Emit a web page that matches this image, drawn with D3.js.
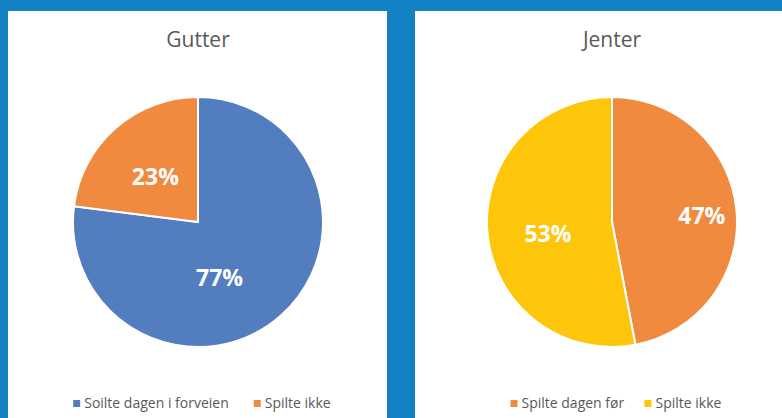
<!DOCTYPE html>
<html>
<head>
<meta charset="utf-8">
<script src="https://cdn.jsdelivr.net/npm/d3@7"></script>
<style>
  html, body { margin: 0; padding: 0; background: #1282c4; }
  svg { display: block; }
</style>
</head>
<body>
<svg id="chart" width="782" height="418"></svg>
<script>
// Data
const titles = ["Gutter", "Jenter"];
const boysLabels = ["Soilte dagen i forveien", "Spilte ikke"];
const boysValues = [77, 23];
const girlsLabels = ["Spilte dagen før", "Spilte ikke"];
const girlsValues = [47, 53];
const boysColors = ["#527dbf", "#ef8a3e"];
const girlsColors = ["#ef8a3e", "#fec60b"];
// label placement (polar, degrees clockwise from top, radius fraction)
const boysLabelAngle = [159, 317];
const boysLabelRadius = [0.48, 0.5];
const girlsLabelAngle = [86, 260];
const girlsLabelRadius = [0.72, 0.52];

const svg = d3.select("#chart");
const W = 782, H = 418;

const panels = [
  { x: 8, w: 379, title: titles[0], labels: boysLabels, values: boysValues, colors: boysColors, la: boysLabelAngle, lr: boysLabelRadius, gap: 25 },
  { x: 415, w: 367, title: titles[1], labels: girlsLabels, values: girlsValues, colors: girlsColors, la: girlsLabelAngle, lr: girlsLabelRadius, gap: 20 }
];
const centers = [198, 612];
const R = 125;
const cy = 222;

panels.forEach((p, i) => {
  const g = svg.append("g");
  g.append("rect").attr("x", p.x).attr("y", 11).attr("width", p.w).attr("height", H - 11).attr("fill", "#ffffff");

  const cx = centers[i];
  g.append("text")
    .attr("x", cx).attr("y", 47)
    .attr("text-anchor", "middle")
    .attr("font-family", "'Open Sans', sans-serif")
    .attr("font-size", 21)
    .attr("fill", "#595959")
    .text(p.title);

  const pie = d3.pie().sort(null).value(d => d)(p.values);
  const arc = d3.arc().innerRadius(0).outerRadius(R);
  const pg = g.append("g").attr("transform", `translate(${cx},${cy})`);
  pg.selectAll("path").data(pie).join("path")
    .attr("d", arc)
    .attr("fill", (d, j) => p.colors[j])
    .attr("stroke", "#ffffff")
    .attr("stroke-width", 2)
    .attr("stroke-linejoin", "round");

  pg.selectAll("text.lbl").data(pie).join("text")
    .attr("class", "lbl")
    .attr("transform", (d, j) => {
      const pt = d3.pointRadial(p.la[j] * Math.PI / 180, p.lr[j] * R);
      return `translate(${pt[0]},${pt[1]})`;
    })
    .attr("text-anchor", "middle")
    .attr("dy", "0.36em")
    .attr("font-family", "'Open Sans', sans-serif")
    .attr("font-weight", "bold")
    .attr("font-size", 23)
    .attr("fill", "#ffffff")
    .text(d => d.data + "%");

  // legend
  const lg = g.append("g");
  const items = lg.selectAll("g").data(p.labels).join("g");
  items.append("rect").attr("width", 7).attr("height", 7).attr("y", -8)
    .attr("fill", (d, j) => p.colors[j]);
  items.append("text").attr("x", 11).attr("y", 0)
    .attr("font-family", "'Open Sans', sans-serif")
    .attr("font-size", 14)
    .attr("fill", "#595959")
    .text(d => d);
  let xo = 0;
  items.each(function() {
    const w = this.getBBox().width;
    d3.select(this).attr("transform", `translate(${xo},0)`);
    xo += w + p.gap;
  });
  const total = xo - p.gap;
  lg.attr("transform", `translate(${cx - total / 2 + 4},${408})`);
});
</script>
</body>
</html>
